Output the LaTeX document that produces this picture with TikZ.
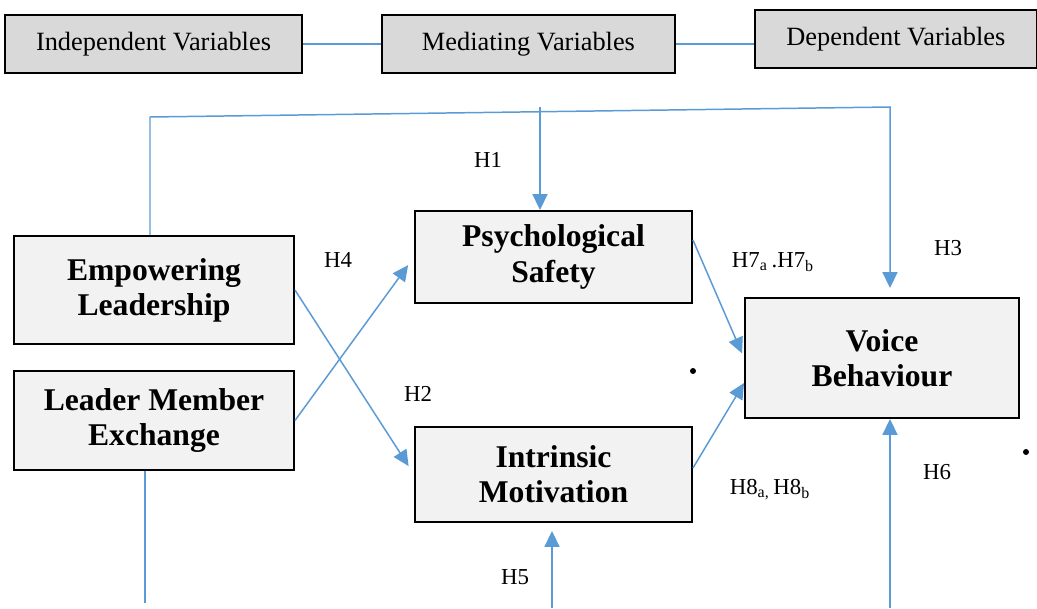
\documentclass[tikz,border=0pt]{standalone}
\usepackage{fontspec}
\setmainfont{Liberation Serif}
\usetikzlibrary{arrows.meta,positioning}
\definecolor{linkblue}{HTML}{5B9BD5}
\definecolor{headgray}{HTML}{D9D9D9}
\definecolor{boxgray}{HTML}{F2F2F2}

\begin{document}
\begin{tikzpicture}[x=0.2mm, y=-0.2mm]
    \tikzstyle{head} = [rectangle, draw, line width=1.1pt, fill=headgray, minimum height=11.6mm, inner sep=0pt, font=\fontsize{15}{18}\selectfont]
    \tikzstyle{var} = [rectangle, draw, line width=1.1pt, fill=boxgray, align=center, inner sep=0pt, font=\fontsize{18}{20}\selectfont\bfseries]
    \tikzstyle{link} = [draw=linkblue, line width=0.85pt]
    \tikzstyle{arrow} = [link, -{Triangle[length=9pt, width=8.5pt]}]
    \tikzstyle{hyp} = [inner sep=0pt, font=\fontsize{13}{15}\selectfont]

    \useasboundingbox (0,0) rectangle (1037,608);

    % header row
    \node [head, minimum width=59.4mm] (indep) at (153.5,44) {Independent Variables};
    \node [head, minimum width=58.6mm, right=15.6mm of indep] (medi) {Mediating Variables};
    \node [head, minimum width=56.4mm, right=15.6mm of medi, yshift=1mm] (dep) {Dependent Variables};
    \draw [link] (indep) -- (medi);
    \draw [link] (medi.east) -- (medi.east -| dep.west);

    % variables
    \node [var, minimum width=56mm, minimum height=21.6mm] (emplead) at (154,290) {Empowering\\Leadership};
    \node [var, minimum width=56mm, minimum height=19.8mm] (lmx) at (154,420.5) {Leader Member\\Exchange};
    \node [var, minimum width=55.4mm, minimum height=18.4mm] (psysafe) at (553.5,257) {Psychological\\Safety};
    \node [var, minimum width=55.4mm, minimum height=19mm] (intmot) at (553.5,474.5) {Intrinsic\\Motivation};
    \node [var, minimum width=54.8mm, minimum height=24mm] (voice) at (882,358) {Voice\\Behaviour};

    % connectors
    \coordinate (topleft) at (150,117);
    \coordinate (topright) at (890,107);
    \coordinate (h1top) at (540,107);
    \coordinate (lmxend) at (145,603);
    \coordinate (h5bot) at (552,608);
    \coordinate (h6bot) at (890,608);

    \draw [arrow, shorten >=1.8mm] (emplead.north -| topleft) -- (topleft) -- (topright) -- (voice.north -| topright);
    \draw [arrow] (h1top) -- (psysafe.north -| h1top);
    \draw [arrow, shorten >=2mm] (emplead.east) -- (intmot.west);
    \draw [arrow, shorten >=2mm] (lmx.east) -- (psysafe.west);
    \draw [arrow, shorten >=1mm] ([yshift=3.4mm]psysafe.east) -- (voice.west);
    \draw [arrow] ([yshift=1.3mm]intmot.east) -- ([yshift=-5mm]voice.west);
    \draw [link] (lmx.south -| lmxend) -- (lmxend);
    \draw [arrow, shorten >=1.6mm] (h5bot) -- (intmot.south -| h5bot);
    \draw [arrow] (h6bot) -- (voice.south -| h6bot);

    % hypotheses
    \node [hyp] (lblh1) at (488,160) {H1};
    \node [hyp] (lblh2) at (418,394) {H2};
    \node [hyp] (lblh3) at (948,248) {H3};
    \node [hyp] (lblh4) at (338,260) {H4};
    \node [hyp] (lblh5) at (515,577) {H5};
    \node [hyp] (lblh6) at (937,472) {H6};
    \node [hyp] (lblh7) at (773,262) {H7\textsubscript{a}\,.H7\textsubscript{b}};
    \node [hyp] (lblh8) at (770,490) {H8\textsubscript{a,}\,H8\textsubscript{b}};

    \fill (693,371) circle (0.6mm);
    \fill (1026,452) circle (0.6mm);
\end{tikzpicture}
\end{document}
